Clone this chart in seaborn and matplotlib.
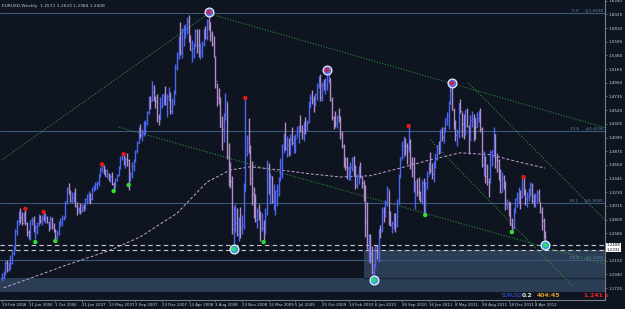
import matplotlib
matplotlib.use("Agg")
import matplotlib.pyplot as plt
import seaborn as sns
import numpy as np
import pandas as pd

# ---------------- data ----------------
chart_title = "EURUSD,Weekly  1.2571 1.2623 1.2384 1.2408"
date_labels = ["19 Feb 2006", "11 Jun 2006", "1 Oct 2006", "21 Jan 2007", "13 May 2007",
               "2 Sep 2007", "23 Dec 2007", "13 Apr 2008", "3 Aug 2008", "23 Nov 2008",
               "15 Mar 2009", "5 Jul 2009", "25 Oct 2009", "14 Feb 2010", "6 Jun 2010",
               "26 Sep 2010", "16 Jan 2011", "8 May 2011", "28 Aug 2011", "18 Dec 2011",
               "8 Apr 2012"]
first_open = 1.188
high = [
1.196,1.200,1.215,1.217,1.214,1.224,1.230,1.240,1.265,1.280,
1.293,1.298,1.292,1.292,1.298,1.277,1.264,1.280,1.284,1.285,
1.271,1.277,1.289,1.287,1.288,1.292,1.290,1.285,1.276,1.285,
1.284,1.275,1.266,1.264,1.278,1.282,1.287,1.285,1.310,1.332,
1.337,1.327,1.323,1.323,1.330,1.307,1.300,1.306,1.304,1.304,
1.314,1.321,1.325,1.322,1.331,1.335,1.339,1.340,1.352,1.363,
1.368,1.366,1.359,1.360,1.353,1.351,1.355,1.339,1.345,1.352,
1.364,1.380,1.384,1.385,1.378,1.385,1.375,1.355,1.371,1.375,
1.389,1.403,1.425,1.430,1.422,1.435,1.437,1.450,1.475,1.474,
1.497,1.492,1.474,1.477,1.446,1.473,1.478,1.478,1.490,1.477,
1.489,1.481,1.471,1.484,1.524,1.544,1.569,1.590,1.581,1.585,
1.588,1.598,1.602,1.570,1.562,1.557,1.579,1.580,1.580,1.557,
1.560,1.580,1.584,1.595,1.604,1.591,1.576,1.568,1.537,1.494,
1.487,1.472,1.443,1.447,1.479,1.465,1.400,1.370,1.349,1.301,
1.305,1.298,1.284,1.300,1.288,1.338,1.472,1.413,1.440,1.397,
1.372,1.332,1.320,1.299,1.305,1.293,1.290,1.279,1.298,1.374,
1.369,1.353,1.349,1.336,1.327,1.336,1.347,1.377,1.399,1.416,
1.434,1.411,1.409,1.414,1.425,1.412,1.415,1.427,1.428,1.445,
1.429,1.434,1.442,1.436,1.466,1.478,1.484,1.475,1.479,1.495,
1.506,1.508,1.496,1.501,1.503,1.514,1.510,1.502,1.473,1.443,
1.451,1.445,1.456,1.443,1.420,1.399,1.379,1.379,1.365,1.370,
1.379,1.380,1.366,1.352,1.364,1.370,1.348,1.343,1.334,1.307,
1.258,1.257,1.239,1.211,1.239,1.240,1.266,1.272,1.300,1.300,
1.311,1.333,1.326,1.293,1.278,1.290,1.291,1.313,1.351,1.378,
1.403,1.412,1.408,1.401,1.428,1.406,1.379,1.379,1.341,1.345,
1.347,1.325,1.342,1.345,1.339,1.357,1.371,1.386,1.369,1.372,
1.384,1.398,1.403,1.422,1.425,1.425,1.440,1.449,1.466,1.488,
1.494,1.456,1.436,1.422,1.464,1.470,1.449,1.446,1.453,1.456,
1.429,1.445,1.450,1.446,1.440,1.449,1.450,1.456,1.426,1.388,
1.380,1.367,1.345,1.390,1.390,1.425,1.414,1.384,1.375,1.359,
1.355,1.350,1.340,1.312,1.310,1.308,1.282,1.299,1.314,1.323,
1.332,1.327,1.345,1.349,1.328,1.323,1.330,1.339,1.338,1.320,
1.322,1.327,1.328,1.308,1.300,1.283,1.262]
low = [
1.184,1.186,1.193,1.198,1.199,1.203,1.210,1.225,1.232,1.256,
1.272,1.274,1.271,1.276,1.271,1.255,1.250,1.248,1.272,1.260,
1.250,1.258,1.270,1.275,1.272,1.278,1.274,1.275,1.262,1.266,
1.265,1.261,1.248,1.250,1.256,1.270,1.270,1.279,1.282,1.305,
1.320,1.307,1.306,1.308,1.300,1.287,1.290,1.289,1.292,1.293,
1.297,1.305,1.306,1.305,1.311,1.325,1.326,1.328,1.333,1.347,
1.355,1.351,1.348,1.346,1.341,1.339,1.335,1.327,1.330,1.340,
1.349,1.360,1.374,1.366,1.361,1.364,1.326,1.340,1.346,1.356,
1.371,1.385,1.401,1.408,1.404,1.411,1.415,1.429,1.446,1.454,
1.466,1.466,1.455,1.434,1.429,1.437,1.456,1.460,1.460,1.442,
1.467,1.446,1.446,1.460,1.478,1.515,1.532,1.538,1.534,1.553,
1.565,1.571,1.559,1.547,1.527,1.534,1.551,1.542,1.535,1.533,
1.536,1.552,1.563,1.562,1.578,1.561,1.553,1.535,1.486,1.459,
1.462,1.425,1.390,1.402,1.437,1.375,1.333,1.330,1.257,1.233,
1.260,1.254,1.247,1.251,1.257,1.265,1.325,1.380,1.384,1.334,
1.303,1.282,1.276,1.267,1.280,1.246,1.262,1.246,1.258,1.287,
1.321,1.304,1.306,1.295,1.288,1.302,1.317,1.341,1.345,1.385,
1.390,1.379,1.380,1.382,1.398,1.385,1.385,1.410,1.400,1.418,
1.407,1.403,1.415,1.420,1.432,1.455,1.462,1.449,1.458,1.468,
1.487,1.466,1.467,1.483,1.477,1.483,1.495,1.466,1.437,1.422,
1.425,1.424,1.433,1.406,1.393,1.362,1.358,1.344,1.343,1.343,
1.357,1.349,1.328,1.330,1.336,1.345,1.330,1.310,1.253,1.234,
1.214,1.212,1.195,1.188,1.205,1.218,1.214,1.251,1.260,1.276,
1.284,1.301,1.272,1.270,1.259,1.266,1.261,1.269,1.304,1.345,
1.373,1.378,1.381,1.368,1.387,1.360,1.347,1.324,1.297,1.317,
1.311,1.308,1.305,1.291,1.286,1.328,1.350,1.353,1.344,1.339,
1.361,1.373,1.383,1.384,1.404,1.400,1.418,1.429,1.423,1.461,
1.452,1.422,1.403,1.396,1.409,1.448,1.410,1.407,1.413,1.425,
1.383,1.404,1.425,1.404,1.407,1.425,1.434,1.417,1.363,1.349,
1.337,1.334,1.315,1.338,1.365,1.378,1.361,1.355,1.343,1.322,
1.324,1.328,1.295,1.297,1.286,1.271,1.262,1.266,1.291,1.300,
1.305,1.297,1.314,1.319,1.303,1.300,1.310,1.317,1.306,1.300,
1.300,1.306,1.308,1.291,1.264,1.250,1.238]
close = [
1.190,1.193,1.212,1.202,1.212,1.212,1.228,1.236,1.262,1.278,
1.291,1.284,1.275,1.290,1.274,1.261,1.256,1.279,1.280,1.263,
1.268,1.275,1.288,1.278,1.282,1.281,1.284,1.276,1.270,1.281,
1.268,1.263,1.252,1.259,1.276,1.276,1.282,1.284,1.309,1.328,
1.323,1.310,1.315,1.320,1.301,1.296,1.296,1.294,1.300,1.295,
1.313,1.318,1.322,1.312,1.326,1.330,1.336,1.338,1.351,1.360,
1.364,1.356,1.349,1.352,1.345,1.349,1.336,1.330,1.343,1.350,
1.362,1.377,1.381,1.369,1.376,1.373,1.347,1.351,1.365,1.374,
1.388,1.401,1.420,1.413,1.418,1.428,1.432,1.449,1.468,1.466,
1.481,1.471,1.467,1.441,1.439,1.459,1.477,1.477,1.462,1.475,
1.479,1.451,1.466,1.478,1.519,1.535,1.566,1.543,1.579,1.580,
1.580,1.592,1.561,1.547,1.550,1.556,1.577,1.555,1.545,1.545,
1.556,1.578,1.567,1.592,1.585,1.570,1.556,1.536,1.498,1.473,
1.468,1.426,1.422,1.446,1.466,1.380,1.342,1.340,1.266,1.269,
1.274,1.258,1.271,1.269,1.271,1.337,1.389,1.409,1.395,1.345,
1.321,1.283,1.280,1.293,1.287,1.267,1.267,1.265,1.291,1.361,
1.329,1.349,1.310,1.320,1.325,1.327,1.346,1.351,1.397,1.415,
1.391,1.398,1.397,1.407,1.400,1.404,1.409,1.420,1.426,1.419,
1.418,1.433,1.430,1.433,1.462,1.471,1.468,1.460,1.476,1.491,
1.499,1.472,1.492,1.489,1.490,1.500,1.503,1.468,1.441,1.437,
1.432,1.441,1.438,1.415,1.396,1.368,1.362,1.361,1.363,1.363,
1.377,1.353,1.335,1.349,1.355,1.349,1.337,1.329,1.276,1.236,
1.256,1.227,1.197,1.211,1.238,1.229,1.266,1.264,1.294,1.291,
1.308,1.328,1.276,1.271,1.275,1.290,1.271,1.305,1.349,1.378,
1.395,1.397,1.395,1.394,1.402,1.369,1.367,1.327,1.341,1.324,
1.320,1.309,1.337,1.292,1.338,1.348,1.361,1.358,1.352,1.368,
1.375,1.398,1.391,1.418,1.410,1.424,1.439,1.443,1.464,1.483,
1.453,1.432,1.413,1.417,1.463,1.450,1.431,1.418,1.452,1.427,
1.415,1.436,1.440,1.428,1.426,1.440,1.450,1.422,1.366,1.379,
1.349,1.339,1.338,1.387,1.389,1.414,1.378,1.373,1.352,1.324,
1.346,1.338,1.304,1.305,1.296,1.272,1.268,1.294,1.313,1.316,
1.320,1.316,1.345,1.320,1.312,1.316,1.324,1.334,1.310,1.307,
1.318,1.323,1.309,1.292,1.278,1.257,1.241]

# moving average (at sample bars)
ma_bar = [1, 19, 39, 65, 83, 105, 123, 137, 149, 167, 185, 203, 221, 239, 257, 275, 293, 311, 326]
ma_val = [1.173, 1.190, 1.209, 1.232, 1.253, 1.290, 1.339, 1.358, 1.363, 1.358, 1.352, 1.347,
          1.349, 1.361, 1.374, 1.385, 1.382, 1.370, 1.361]

# fractal markers
red_bar = [14, 25, 60, 73, 146, 244, 313]
red_price = [1.297, 1.292, 1.367, 1.383, 1.471, 1.427, 1.347]
green_bar = [20, 32, 67, 76, 157, 254, 306]
green_price = [1.2448, 1.2464, 1.3249, 1.3344, 1.2448, 1.2872, 1.2605]
peak_bar = [124, 195, 270]
peak_price = [1.6061, 1.5150, 1.4946]
trough_bar = [139, 223, 326]
trough_price = [1.2338, 1.1851, 1.2401]

# fibonacci levels
fib_names = ["0.0", "23.6", "38.2", "61.8"]
fib_levels = [1.6038, 1.4190, 1.3065, 1.2165]
price_lines = [1.2408, 1.2331]

# right axis ticks (1.2370 is hidden behind the price boxes)
ytick_vals = [1.6240, 1.6025, 1.5810, 1.5595, 1.5380, 1.5165, 1.4950, 1.4735, 1.4520, 1.4305,
              1.4090, 1.3875, 1.3660, 1.3445, 1.3230, 1.3015, 1.2800, 1.2585, 1.2155, 1.1940,
              1.1725]

# trend lines (bar, price) pairs
trend_x = [[0, 124], [124, 362], [70, 362], [280, 363], [257, 343]]
trend_y = [[1.374, 1.6038], [1.6038, 1.4245], [1.4255, 1.2102], [1.4946, 1.2762], [1.4051, 1.1741]]

# zone rectangle / band
zone_bar = [217, 362]
zone_price = [1.1877, 1.2317]
band_price = [1.1663, 1.1877]

status_items = ["EURUSD", "0.2", "404:45", "1.241 s"]

# ---------------- style ----------------
BG = "#0e1420"
sns.set_theme(style="dark", rc={"axes.facecolor": BG, "figure.facecolor": BG})
plt.rcParams["font.family"] = ["DejaVu Sans"]

n = min(len(high), len(low), len(close))
bars = np.arange(n)
df = pd.DataFrame({"bar": bars, "high": high[:n], "low": low[:n], "close": close[:n]})
df["open"] = [first_open] + list(df["close"].values[:-1])
df["up"] = df["close"] >= df["open"]

fig = plt.figure(figsize=(6.25, 3.09), dpi=100)
ax = fig.add_axes([0, 9 / 309, 605 / 625, 300 / 309])
ax.set_facecolor(BG)

xmin, xmax = -1.2, 361.9
ax.set_xlim(xmin, xmax)
ax.set_ylim(1.1538, 1.6250)

# zone + band
ax.axhspan(band_price[0], band_price[1], color="#2b3c55", zorder=0.5, lw=0)
ax.fill_between(zone_bar, zone_price[0], zone_price[1], color="#2b3c55", zorder=0.5, lw=0)
ax.plot(zone_bar, [zone_price[0]] * 2, color="#1a2436", lw=1.0, zorder=0.6)

# fib lines
for nm, lv in zip(fib_names, fib_levels):
    ax.axhline(lv, color="#3d5b78", lw=0.8, zorder=1)
    ax.text(xmax - 1.2, lv + 0.0012, f"{nm}     @{lv:.4f}", color="#6a8aac", fontsize=3.0,
            ha="right", va="bottom", zorder=5)

# price dashed lines
for pl in price_lines:
    ax.axhline(pl, color="#c8ccd4", lw=0.8, ls=(0, (4, 3)), zorder=1.2)

# trend lines
for tx, ty in zip(trend_x, trend_y):
    ax.plot(tx, ty, color="#2f8a3a", lw=0.8, ls=(0, (1, 1.5)), zorder=1.5)

# moving average
sns.lineplot(x=ma_bar, y=ma_val, ax=ax, color="#c7a4d8", lw=0.7, zorder=2,
             linestyle=(0, (3, 2)), estimator=None)

# OHLC bars
up_c, dn_c = "#4c66f2", "#b18ccb"
cols = np.where(df["up"], up_c, dn_c)
ax.vlines(df["bar"], df["low"], df["high"], colors=cols, lw=1.0, zorder=3)
ax.hlines(df["open"], df["bar"] - 0.45, df["bar"], colors=cols, lw=0.6, zorder=3)
ax.hlines(df["close"], df["bar"], df["bar"] + 0.45, colors=cols, lw=0.6, zorder=3)

# markers
sns.scatterplot(x=red_bar, y=red_price, ax=ax, color="#e01818", s=10, edgecolor="none", zorder=6)
sns.scatterplot(x=green_bar, y=green_price, ax=ax, color="#2fe02f", s=10, edgecolor="none", zorder=6)
sns.scatterplot(x=peak_bar, y=peak_price, ax=ax, color="#5a6ad8", s=40, edgecolor="#e8e8ff",
                linewidth=0.9, zorder=6)
sns.scatterplot(x=peak_bar, y=peak_price, ax=ax, color="#d02030", s=9, edgecolor="none", zorder=7)
sns.scatterplot(x=trough_bar, y=trough_price, ax=ax, color="#3a9ed8", s=40, edgecolor="#e8f8ff",
                linewidth=0.9, zorder=6)
sns.scatterplot(x=trough_bar, y=trough_price, ax=ax, color="#30e060", s=9, edgecolor="none", zorder=7)

# axes styling
for s in ["top", "left"]:
    ax.spines[s].set_visible(False)
for s in ["right", "bottom"]:
    ax.spines[s].set_visible(True)
    ax.spines[s].set_color("#7a7f88")
    ax.spines[s].set_linewidth(0.8)
ax.grid(False)
ax.set_xlabel("")
ax.set_ylabel("")

ax.yaxis.tick_right()
ax.set_yticks(ytick_vals)
ax.set_yticklabels([f"{v:.4f}" for v in ytick_vals])
ax.tick_params(axis="y", colors="#7a7f88", labelcolor="#d0d0d0", labelsize=3.0,
               length=1.5, width=0.5, pad=1.0, direction="out", right=True, left=False)

xt = [16 * i for i in range(len(date_labels))]
ax.set_xticks(xt)
ax.set_xticklabels(date_labels, ha="left")
ax.tick_params(axis="x", colors="#7a7f88", labelcolor="#d0d0d0", labelsize=2.8,
               length=1.5, width=0.5, pad=0.8, direction="out", bottom=True)

# title
ax.text(0.004, 0.988, chart_title, transform=ax.transAxes, color="#c8c8c8",
        fontsize=3.2, ha="left", va="top")

def px2fig(x, y):
    return x / 625, 1 - y / 309

# current price boxes (stacked, as in the terminal)
box_y = [245.5, 250.0]
for pl, by in zip(price_lines, box_y):
    fx, fy = px2fig(606.5, by)
    fig.text(fx, fy, f"{pl:.4f}", color="black", fontsize=2.9, ha="left", va="center",
             bbox=dict(boxstyle="square,pad=0.08", fc="white", ec="none"))

# status row
stat_x = [501, 522, 537, 584]
stat_col = ["#3c5cff", "#e8e8e8", "#e0a020", "#ff2020"]
stat_w = ["normal", "bold", "bold", "bold"]
stat_fs = [3.6, 4.4, 4.4, 4.2]
for t, xp, c, w, fs in zip(status_items, stat_x, stat_col, stat_w, stat_fs):
    fx, fy = px2fig(xp, 295.5)
    fig.text(fx, fy, t, color=c, fontsize=fs, fontweight=w, ha="left", va="center")

fig.savefig("out.png", dpi=100, facecolor=BG)
